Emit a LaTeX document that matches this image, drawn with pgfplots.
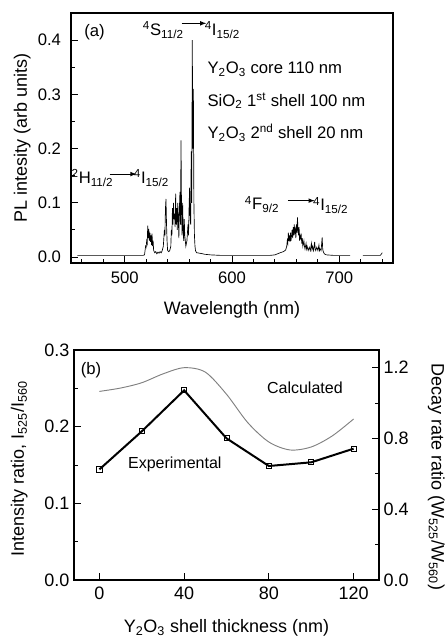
\documentclass[border=0pt]{standalone}
\usepackage{pgfplots}
\pgfplotsset{compat=1.18}
\usepackage{fontspec}
\setmainfont{Liberation Sans}
\setsansfont{Liberation Sans}
\newcommand{\up}[1]{\textsuperscript{#1}}
\newcommand{\dn}[1]{\textsubscript{#1}}
\begin{document}
\begin{tikzpicture}
\useasboundingbox (0pt,0pt) rectangle (334.5pt,-479.25pt);
\pgfplotsset{
  every axis/.append style={
    scale only axis,
    /pgf/number format/assume math mode=true,
    axis line style={line width=0.8pt},
    tick style={black, line width=0.7pt},
    tick align=inside,
    major tick length=5pt,
    minor tick length=3pt,
    label style={font=\fontsize{13.5}{15}\selectfont},
    clip mode=individual,
  },
}
% (a) PL spectrum
\begin{axis}[
  at={(53.25pt,-197.25pt)}, anchor=south west,
  width=241.5pt, height=187.5pt,
  xmin=450, xmax=750, ymin=-0.011, ymax=0.45,
  xtick={500,600,700},
  minor xtick={460,480,520,540,560,580,620,640,660,680,720,740},
  ytick={0,0.1,0.2,0.3,0.4},
  minor ytick={0.05,0.15,0.25,0.35},
  xtick pos=bottom, ytick pos=left,
  ticklabel style={font=\fontsize{12.5}{14}\selectfont},
  yticklabel style={/pgf/number format/fixed, /pgf/number format/fixed zerofill, /pgf/number format/precision=1, xshift=-4pt},
  xticklabel style={yshift=-3pt},
  xlabel={Wavelength (nm)},
  ylabel={PL intesity (arb units)},
  xlabel style={at={(axis description cs:0.5,0)}, anchor=center, yshift=-35pt},
  ylabel style={at={(axis description cs:0,0.5)}, anchor=center, yshift=36.5pt},
  unbounded coords=jump,
]
\addplot[black, line width=0.5pt] coordinates {
(456,0.003) (470,0.003) (480,0.003) (490,0.003) (500,0.003) (510,0.003) (517,0.003)
(518.5,0.004) (519,0.012) (519.5,0.02) (520,0.018) (520.5,0.03) (521,0.025) (521.5,0.058)
(522,0.035) (522.5,0.052) (523,0.03) (523.5,0.045) (524,0.028) (524.5,0.04) (525,0.022)
(525.5,0.043) (526,0.02) (526.5,0.03) (527,0.012) (528,0.008) (529,0.01) (530,0.006)
(531,0.009) (532,0.007) (533,0.01) (534,0.008) (535,0.012) (536,0.02) (537,0.05)
(537.5,0.04) (538,0.09) (538.5,0.107) (539,0.06) (539.5,0.03) (540,0.012) (541,0.01)
(542,0.012) (543,0.02) (543.5,0.05) (544,0.04) (544.5,0.09) (545,0.06) (545.5,0.1)
(546,0.07) (546.5,0.08) (547,0.055) (547.5,0.117) (548,0.06) (548.5,0.09) (549,0.05)
(549.5,0.1) (550,0.07) (550.5,0.035) (551,0.09) (551.5,0.12) (552,0.06) (552.5,0.215)
(553,0.08) (553.5,0.04) (554,0.1) (554.5,0.05) (555,0.03) (555.5,0.07) (556,0.04)
(557,0.02) (558,0.03) (559,0.06) (559.5,0.04) (560,0.09) (560.5,0.128) (561,0.07)
(561.5,0.06) (562,0.195) (562.5,0.1) (563,0.4) (563.5,0.2) (564,0.31) (564.5,0.1)
(565,0.04) (565.5,0.02) (566,0.012) (567,0.008) (570,0.007) (575,0.005) (580,0.004)
(590,0.003) (600,0.003) (620,0.003) (635,0.003) (640,0.004) (645,0.008) (648,0.01)
(650,0.013) (651,0.02) (651.5,0.03) (652,0.025) (652.5,0.045) (653,0.03) (653.5,0.04)
(654,0.028) (654.5,0.045) (655,0.03) (655.5,0.04) (656,0.05) (656.5,0.035) (657,0.055)
(657.5,0.04) (658,0.06) (658.5,0.045) (659,0.05) (659.5,0.035) (660,0.06) (660.5,0.045)
(661,0.073) (661.5,0.05) (662,0.04) (662.5,0.055) (663,0.03) (663.5,0.04) (664,0.035)
(664.5,0.04) (665,0.025) (665.5,0.035) (666,0.02) (667,0.03) (667.5,0.02) (668,0.015)
(669,0.025) (669.5,0.015) (670,0.02) (671,0.012) (672,0.018) (673,0.012) (674,0.025)
(674.5,0.014) (675,0.02) (676,0.012) (677,0.028) (677.5,0.015) (678,0.012) (679,0.018)
(680,0.012) (681,0.022) (681.5,0.012) (682,0.015) (683,0.012) (684,0.036) (684.5,0.015)
(685,0.01) (686,0.006) (688,0.004) (695,0.003) (705,0.003) (710,0.003)
(712,nan)
(722,0.003) (730,0.003) (738,0.003) (739,0.005) (740,0.008)
};
\node[font=\fontsize{12.5}{14}\selectfont] at (axis cs:472,0.415) {(a)};
\node[font=\fontsize{12.5}{14}\selectfont] at (axis cs:536,0.418) {\up{4}S\dn{11/2}};
\draw[-latex, line width=0.6pt] (axis cs:553,0.431) -- (axis cs:576,0.431);
\node[font=\fontsize{12.5}{14}\selectfont] at (axis cs:591,0.418) {\up{4}I\dn{15/2}};
\node[font=\fontsize{12.5}{14}\selectfont, anchor=west, inner sep=0pt] at (axis cs:577,0.346) {Y\dn{2}O\dn{3} core 110 nm};
\node[font=\fontsize{12.5}{14}\selectfont, anchor=west, inner sep=0pt] at (axis cs:577,0.288) {SiO\dn{2} 1\up{st} shell 100 nm};
\node[font=\fontsize{12.5}{14}\selectfont, anchor=west, inner sep=0pt] at (axis cs:577,0.229) {Y\dn{2}O\dn{3} 2\up{nd} shell 20 nm};
\node[font=\fontsize{12.5}{14}\selectfont] at (axis cs:470,0.146) {\up{2}H\dn{11/2}};
\draw[-latex, line width=0.6pt] (axis cs:486,0.153) -- (axis cs:511,0.153);
\node[font=\fontsize{12.5}{14}\selectfont] at (axis cs:525,0.146) {\up{4}I\dn{15/2}};
\node[font=\fontsize{12.5}{14}\selectfont] at (axis cs:628,0.097) {\up{4}F\dn{9/2}};
\draw[-latex, line width=0.6pt] (axis cs:652,0.104) -- (axis cs:677,0.104);
\node[font=\fontsize{12.5}{14}\selectfont] at (axis cs:692,0.095) {\up{4}I\dn{15/2}};
\end{axis}

% (b) intensity ratio, left axis
\begin{axis}[
  at={(55.5pt,-435pt)}, anchor=south west,
  width=228.75pt, height=172.5pt,
  xmin=-12, xmax=132, ymin=0, ymax=0.3,
  xtick={0,40,80,120},
  ytick={0,0.1,0.2,0.3},
  minor ytick={0.05,0.15,0.25},
  xtick pos=bottom, ytick pos=left,
  ticklabel style={font=\fontsize{13.5}{15}\selectfont},
  yticklabel style={/pgf/number format/fixed, /pgf/number format/fixed zerofill, /pgf/number format/precision=1},
  xticklabel style={yshift=-1.5pt},
  xlabel={Y\dn{2}O\dn{3} shell thickness (nm)},
  ylabel={Intensity ratio, I\dn{525}/I\dn{560}},
  xlabel style={at={(axis description cs:0.5,0)}, anchor=center, yshift=-36pt},
  ylabel style={at={(axis description cs:0,0.5)}, anchor=center, yshift=41pt, xshift=-3pt},
]
\addplot[black, line width=1.5pt, mark=square, mark size=1.9pt,
  mark options={solid, fill=white, line width=0.6pt}] coordinates {
(0,0.1443) (20,0.1939) (40,0.2474) (60,0.1848) (80,0.1487) (100,0.1535) (120,0.1713)
};
\node[font=\fontsize{12.5}{14}\selectfont] at (axis cs:-4,0.274) {(b)};
\node[font=\fontsize{12}{14}\selectfont] at (axis cs:35.6,0.151) {Experimental};
\node[font=\fontsize{12}{14}\selectfont] at (axis cs:97,0.2504) {Calculated};
\end{axis}

% (b) decay rate ratio, right axis
\begin{axis}[
  at={(55.5pt,-435pt)}, anchor=south west,
  width=228.75pt, height=172.5pt,
  xmin=-12, xmax=132, ymin=0, ymax=1.3,
  axis x line=none, axis y line*=right,
  ytick={0,0.4,0.8,1.2},
  minor ytick={0.2,0.6,1.0},
  ticklabel style={font=\fontsize{13.5}{15}\selectfont},
  yticklabel style={/pgf/number format/fixed, /pgf/number format/fixed zerofill, /pgf/number format/precision=1},
  ylabel={Decay rate ratio (W\dn{525}/W\dn{560})},
  ylabel style={at={(axis description cs:1,0.5)}, anchor=center, rotate=180, yshift=43pt, xshift=9pt},
]
\addplot[gray, line width=0.7pt, smooth] coordinates {
(0,1.066) (10,1.085) (20,1.115) (30,1.165) (40,1.2) (50,1.175) (60,1.05)
(70,0.89) (80,0.78) (90,0.735) (100,0.752) (110,0.815) (120,0.91)
};
\end{axis}
\end{tikzpicture}
\end{document}
